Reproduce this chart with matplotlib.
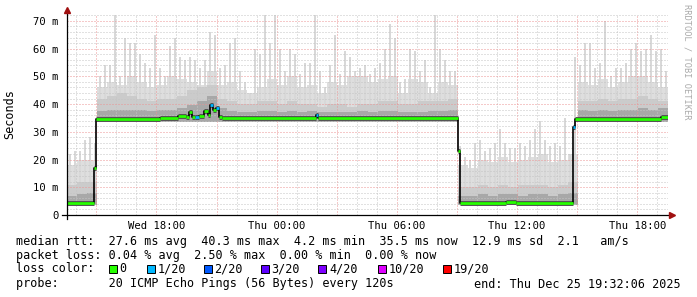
import numpy as np
import matplotlib
matplotlib.use("Agg")
import matplotlib.pyplot as plt
from matplotlib.patches import Rectangle
from matplotlib.ticker import MultipleLocator, FuncFormatter

plt.rcParams['font.family'] = ['DejaVu Sans Mono']

# time axis in hours since Wed 00:00, graph ends Thu 19:32:06, 30 h shown
t_end = 24 + 19 + 32 / 60. + 6 / 3600.
t_start = t_end - 30.0

# highest ping per 15 min [ms]
smoke_max = [22, 23, 23, 27, 28, 26,
             50, 54, 54, 72, 50, 64, 62, 62, 58, 55,
             53, 65, 53, 50, 61, 64, 57, 56, 57, 56,
             53, 56, 66, 65, 53, 54, 62, 64, 52, 48,
             44, 60, 58, 72, 62, 72, 60, 52, 60, 58, 51, 55,
             55, 72, 52, 46, 54, 65, 51, 59, 57, 52, 53, 54,
             51, 53, 55, 60, 69, 64, 48, 49, 60, 59, 52, 56,
             46, 72, 60, 56, 52, 52,
             25, 21, 20, 26, 27, 23, 24, 26, 31, 26, 24, 24, 26, 25, 27, 31, 34, 27,
             25, 26, 25, 35, 22,
             57, 54, 62, 62, 53, 55, 70, 50, 53, 53, 55, 60, 62, 59, 60, 65, 59, 60, 52]

# smoke levels per 30 min [ms]: dense top, mid, dark, bottom
smoke_bulk = [18, 20, 20,
              46, 48, 47, 50, 48, 46, 47, 50, 49, 48,
              47, 52, 47, 48, 45, 44, 46, 49, 47, 50,
              46, 47, 44, 48, 47, 50, 50, 48, 49, 50,
              44, 49, 48, 44, 48, 47,
              18, 17, 20, 19, 21, 19, 20, 21, 22, 19, 20, 22,
              48, 47, 49, 46, 48, 50, 50, 48, 46]
smoke_mid = [11, 12, 12,
             42, 43, 44, 43, 42, 41, 42, 42, 43, 45,
             46, 47, 42, 41, 40, 40, 41, 41, 40, 41,
             40, 40, 39, 40, 40, 39, 40, 40, 41, 41,
             40, 40, 41, 41, 41, 42,
             10, 10, 11, 10, 11, 10, 11, 11, 11, 10, 11, 12,
             41, 41, 42, 41, 42, 42, 43, 42, 41]
smoke_dark = [7.0, 7.5, 8.0,
              37.5, 38, 38, 38, 38, 37.5, 38, 38, 38.5, 39.5,
              41, 43, 38.5, 37.5, 37, 37, 37.5, 37.5, 37, 37.5,
              37, 37.5, 37, 37, 37, 37, 37.5, 37, 37.5, 37.5,
              37, 37, 37, 37.5, 37.5, 38,
              7, 7, 7.5, 7, 7.5, 7.5, 7, 7.5, 7.5, 7, 7.5, 8,
              38, 37.5, 38, 37.5, 38, 38, 38.5, 38, 38.5]
smoke_floor = [3.6] * 3 + [33.4] * 36 + [3.6] * 12 + [33.4] * 9

# median rtt: step start [h], value [ms], lost pings
median_t = [t_start, 14.88, 14.98, 18.18, 19.08, 19.48, 19.63, 19.78, 19.93, 20.13,
            20.38, 20.58, 20.68, 20.83, 20.98, 21.13, 21.28, 25.98, 26.08, 33.03,
            33.13, 35.43, 35.93, 38.78, 38.88, 43.18]
median_ms = [4.4, 17.0, 34.6, 35.0, 35.6, 35.2, 37.2, 35.4, 35.2, 35.6,
             37.6, 36.0, 39.8, 38.0, 38.6, 35.3, 34.9, 36.2, 34.9, 23.1,
             4.4, 4.8, 4.4, 31.6, 34.8, 35.3]
median_loss = [0, 0, 0, 0, 0, 0, 0, 0, 1, 0,
               0, 0, 1, 0, 1, 0, 0, 1, 0, 0,
               0, 0, 0, 1, 0, 0]

loss_labels = ['0', '1/20', '2/20', '3/20', '4/20', '10/20', '19/20']
loss_counts = [0, 1, 2, 3, 4, 10, 19]
loss_colors = ['#26ff00', '#00b8ff', '#0059ff', '#5e00ff', '#7e00ff', '#dd00ff', '#ff0000']

stats_rtt = "median rtt:  27.6 ms avg  40.3 ms max  4.2 ms min  35.5 ms now  12.9 ms sd  2.1   am/s"
stats_loss = "packet loss: 0.04 % avg  2.50 % max  0.00 % min  0.00 % now"
probe_txt = "probe:       20 ICMP Echo Pings (56 Bytes) every 120s"
end_txt = "end: Thu Dec 25 19:32:06 2025"

W, H = 697, 297
fig = plt.figure(figsize=(W / 100, H / 100), dpi=100)
ax = fig.add_axes([67 / W, 1 - 215 / H, 601 / W, 201 / H])
ax.set_xlim(t_start, t_end)
ax.set_ylim(0, 72.5)

# smoke
t30 = t_start + 0.5 * np.arange(len(smoke_bulk))
t15 = t_start + 0.25 * np.arange(len(smoke_max))
floor = np.array(smoke_floor)
floor15 = floor[np.arange(len(smoke_max)) // 2]
ax.bar(t30, np.array(smoke_bulk) - floor, bottom=floor, width=0.5, align='edge',
       color='#dedede', linewidth=0, zorder=1)
ax.bar(t15 + 0.08, np.array(smoke_max) - floor15, bottom=floor15, width=0.1, align='edge',
       color='#d8d8d8', linewidth=0, zorder=1)
ax.bar(t30, np.array(smoke_mid) - floor, bottom=floor, width=0.5, align='edge',
       color='#cbcbcb', linewidth=0, zorder=1.1)
ax.bar(t30, np.array(smoke_dark) - floor, bottom=floor, width=0.5, align='edge',
       color='#a8a8a8', linewidth=0, zorder=1.2)

# median line
mt = np.array(median_t + [t_end])
mv = np.array(median_ms)
ax.hlines(mv, mt[:-1], mt[1:], color='#555555', lw=3.6, zorder=2.9)
ax.step(mt, np.append(mv, mv[-1]), where='post', color='black', lw=1.2, zorder=3)
cmap = dict(zip(loss_counts, loss_colors))
ax.hlines(mv, mt[:-1], mt[1:], color=[cmap[l] for l in median_loss], lw=2.0, zorder=3.2)

# grid
ax.xaxis.set_major_locator(MultipleLocator(3))
ax.xaxis.set_minor_locator(MultipleLocator(1))
ax.yaxis.set_major_locator(MultipleLocator(10))
ax.yaxis.set_minor_locator(MultipleLocator(2))


def xfmt(h, pos):
    if round(h) % 6:
        return ''
    day = 'Wed' if h < 24 else 'Thu'
    return '%s %02d:00' % (day, int(round(h)) % 24)


ax.xaxis.set_major_formatter(FuncFormatter(xfmt))
ax.yaxis.set_major_formatter(FuncFormatter(lambda v, p: '0' if v == 0 else '%d m' % v))
ax.set_axisbelow(False)
ax.grid(which='major', color='#ec9494', lw=0.72, linestyle=(0, (1, 2)))
ax.grid(which='minor', color='#c4c4c4', lw=0.72, linestyle=(0, (1, 2)))
ax.tick_params(which='both', length=0, labelsize=7.6, colors='black')
ax.tick_params(axis='x', pad=4)
ax.tick_params(axis='y', pad=6)

for s in ['top', 'right', 'left', 'bottom']:
    ax.spines[s].set_visible(False)
ax.plot([-0.008, 1.004], [0, 0], transform=ax.transAxes, color='black', lw=0.9, clip_on=False, zorder=5)
ax.plot([0, 0], [-0.02, 1.015], transform=ax.transAxes, color='black', lw=0.9, clip_on=False, zorder=5)
ax.plot([1.006], [0], transform=ax.transAxes, marker='>', ms=4, color='#a01010', clip_on=False, zorder=6)
ax.plot([0], [1.022], transform=ax.transAxes, marker='^', ms=4, color='#a01010', clip_on=False, zorder=6)

fig.text(10 / W, 1 - 114 / H, 'Seconds', rotation=90, ha='center', va='center', fontsize=8.5)
fig.text(687 / W, 1 - 4 / H, 'RRDTOOL / TOBI OETIKER', rotation=270, ha='center', va='top',
         fontsize=6.2, color='#aaaaaa')

# legend block
fs = 8.5
fig.text(16 / W, 1 - 241 / H, stats_rtt, ha='left', va='center', fontsize=fs)
fig.text(16 / W, 1 - 256 / H, stats_loss, ha='left', va='center', fontsize=fs)
fig.text(16 / W, 1 - 269 / H, 'loss color:', ha='left', va='center', fontsize=fs)
box_x = [108.5, 146.5, 203.5, 260.5, 318, 377.5, 443]
for bx, lab, col in zip(box_x, loss_labels, loss_colors):
    fig.patches.append(Rectangle((bx / W, 1 - 273 / H), 8 / W, 8 / H, transform=fig.transFigure,
                                 facecolor=col, edgecolor='black', lw=0.7))
    fig.text((bx + 11) / W, 1 - 269 / H, lab, ha='left', va='center', fontsize=fs)
fig.text(16 / W, 1 - 284 / H, probe_txt, ha='left', va='center', fontsize=fs)
fig.text(681 / W, 1 - 284 / H, end_txt, ha='right', va='center', fontsize=fs)

fig.savefig('out.png', dpi=100, facecolor='white')
